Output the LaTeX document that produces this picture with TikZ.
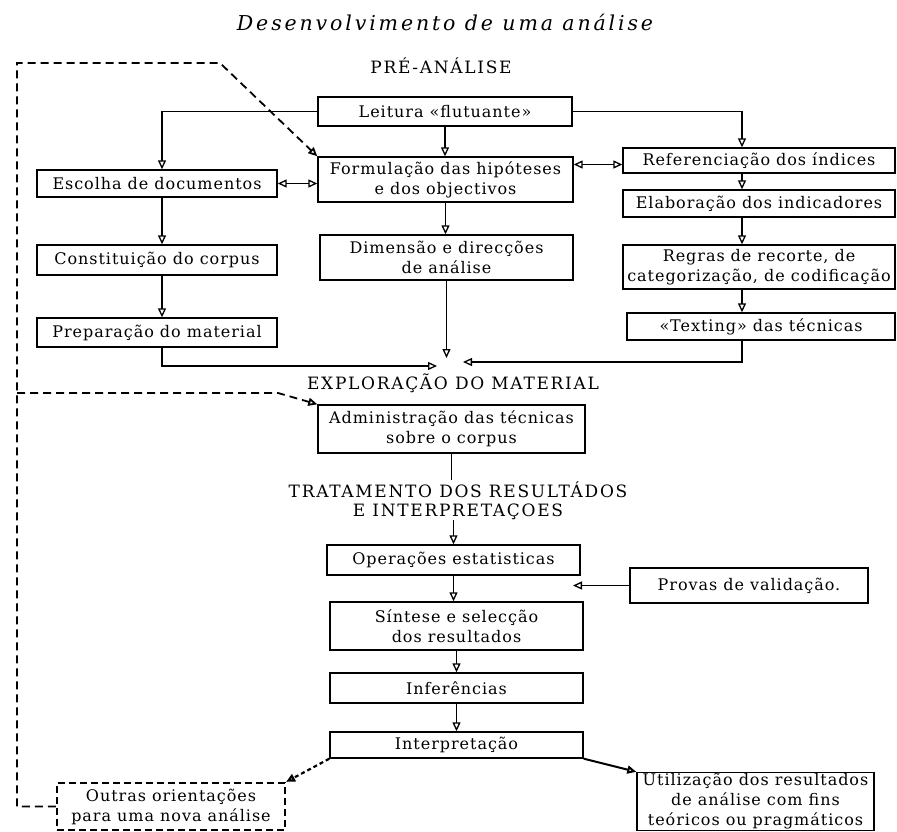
\documentclass[tikz,border=0pt]{standalone}
\usepackage{fontspec}
\newfontfamily\boxfont{DejaVu Serif}[LetterSpace=6]
\newfontfamily\labfont{DejaVu Serif}[LetterSpace=10]
\newfontfamily\titlefont{DejaVu Serif}[LetterSpace=14]
\usetikzlibrary{arrows.meta,calc}
\begin{document}
\begin{tikzpicture}[x=1pt,y=-1pt,
  box/.style={draw, line width=1.4pt, inner sep=1pt, align=center,
    font=\boxfont\fontsize{16}{20}\selectfont},
  lab/.style={inner sep=0pt, align=center, font=\labfont\fontsize{17}{19}\selectfont},
  tip/.style={-{Triangle[open,length=9pt,width=8pt]}},
  arr/.style={line width=1.3pt, tip},
  darr/.style={line width=1.3pt, {Triangle[open,length=9pt,width=8pt]}-{Triangle[open,length=9pt,width=8pt]}},
  dashloop/.style={line width=1.8pt, dash pattern=on 8pt off 5pt, tip},
  dbox/.style={box, line width=2.2pt, dash pattern=on 7pt off 4pt}]
\useasboundingbox (0,0) rectangle (897,832);

% title
\node[inner sep=0pt, font=\titlefont\itshape\fontsize{20.5}{24}\selectfont] (title) at (445,22) {Desenvolvimento de uma análise};

% labels
\node[lab] (prelab) at (441,66) {PRÉ-ANÁLISE};
\node[lab] (explab) at (453,383) {EXPLORAÇÃO DO MATERIAL};
\node[lab] (tralab) at (458,501) {TRATAMENTO DOS RESULTÁDOS\\E INTERPRETAÇOES};

% boxes
\node[box, minimum width=254, minimum height=29] (lei) at (445,111.5) {Leitura «flutuante»};
\node[box, minimum width=255, minimum height=45] (form) at (445.5,179.5) {Formulação das hipóteses\\e dos objectivos};
\node[box, minimum width=240, minimum height=27] (esc) at (157,183.5) {Escolha de documentos};
\node[box, minimum width=272, minimum height=25] (ref) at (759,160.5) {Referenciação dos índices};
\node[box, minimum width=272, minimum height=27] (ela) at (759,203.5) {Elaboração dos indicadores};
\node[box, minimum width=272, minimum height=44] (reg) at (759,267) {Regras de recorte, de\\categorização, de codificação};
\node[box, minimum width=268, minimum height=27] (tex) at (761,326.5) {«Texting» das técnicas};
\node[box, minimum width=253, minimum height=45] (dim) at (446.5,257.5) {Dimensão e direcções\\de análise};
\node[box, minimum width=240, minimum height=30] (con) at (157,260) {Constituição do corpus};
\node[box, minimum width=240, minimum height=29] (pre) at (157,332.5) {Preparação do material};
\node[box, minimum width=267, minimum height=48] (adm) at (451.5,429) {Administração das técnicas\\sobre o corpus};
\node[box, minimum width=253, minimum height=30] (ope) at (453.5,560) {Operações estatisticas};
\node[box, minimum width=238, minimum height=35] (pro) at (749,585.5) {Provas de validação.};
\node[box, minimum width=253, minimum height=48] (sin) at (456.5,626) {Síntese e selecção\\dos resultados};
\node[box, minimum width=253, minimum height=30] (inf) at (456.5,688) {Inferências};
\node[box, minimum width=253, minimum height=26] (int) at (456.5,745) {Interpretação};
\node[dbox, minimum width=228, minimum height=47] (out) at (171,806.5) {Outras orientações\\para uma nova análise};
\node[box, minimum width=237, minimum height=57] (uti) at (755.5,801.5) {Utilização dos resultados\\de análise com fins\\teóricos ou pragmáticos};

% free ends
\coordinate (m1) at (437,366);
\coordinate (m2) at (448,358);
\coordinate (m3) at (463,362);
\coordinate (admEnd) at (452,480);
\coordinate (proTip) at (573,588);
\coordinate (d2) at (17,63);
\coordinate (d3) at (220,63);
\coordinate (d4) at (17,393);
\coordinate (d5) at (278,393);
\coordinate (refw) at ([yshift=-4pt]ref.west);

% pre-analysis connectors
\draw[arr] (lei.west) -| ([xshift=5pt]esc.north);
\draw[arr] (lei.south) -- (lei.south |- form.north);
\draw[arr] (lei.east) -| ([xshift=-17pt]ref.north);
\draw[darr] (esc.east) -- (esc.east -| form.west);
\draw[darr] (form.east |- refw) -- (refw);
\draw[arr] (form.south) -- (form.south |- dim.north);
\draw[arr] ([xshift=-17pt]ref.south) -- ([xshift=-17pt]ela.north);
\draw[arr] ([xshift=-17pt]ela.south) -- ([xshift=-17pt]reg.north);
\draw[arr] ([xshift=-17pt]reg.south) -- ([xshift=-19pt]tex.north);
\draw[arr] ([xshift=5pt]esc.south) -- ([xshift=5pt]con.north);
\draw[arr] ([xshift=5pt]con.south) -- ([xshift=5pt]pre.north);
\draw[arr] ([xshift=5pt]pre.south) |- (m1);
\draw[arr] (dim.south) -- (dim.south |- m2);
\draw[arr] ([xshift=-19pt]tex.south) |- (m3);

% exploration and treatment
\draw[line width=1.3pt] (adm.south) -- (adm.south |- admEnd);
\draw[arr] (ope.north |- tralab.south) -- (ope.north);
\draw[arr] (ope.south) -- (ope.south |- sin.north);
\draw[arr] (pro.west) -- (pro.west -| proTip);
\draw[arr] (sin.south) -- (inf.north);
\draw[arr] (inf.south) -- (int.north);
\draw[line width=2.2pt, dash pattern=on 4pt off 3pt, tip] (int.south west) -- (out.north east);
\draw[line width=2pt, tip] (int.south east) -- (uti.north west);

% dashed feedback loop
\draw[dashloop] (out.west) -| (d2) -- (d3) -- (form.north west);
\draw[dashloop] (d4) -- (d5) -- (adm.north west);
\end{tikzpicture}
\end{document}
